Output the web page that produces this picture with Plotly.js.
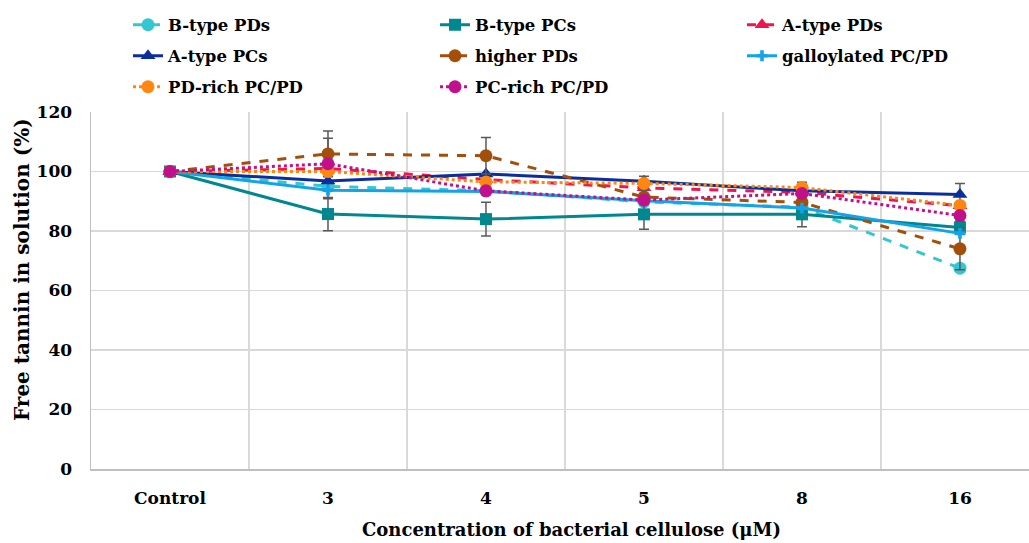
<!DOCTYPE html>
<html>
<head>
<meta charset="utf-8">
<script src="https://cdn.plot.ly/plotly-3.0.1.min.js"></script>
<style>html,body{margin:0;padding:0;background:#fff;}#chart{width:1029px;height:543px;}</style>
</head>
<body>
<div id="chart"></div>
<script>
const categories = ["Control", "3", "4", "5", "8", "16"];

const seriesNames = ["B-type PDs", "B-type PCs", "A-type PDs", "A-type PCs", "higher PDs", "galloylated PC/PD", "PD-rich PC/PD", "PC-rich PC/PD"];

const bTypePDs      = [100, 95.0, 93.5, 89.8, 88.0, 67.5];
const bTypePCs      = [100, 85.7, 84.0, 85.6, 85.6, 81.2];
const aTypePDs      = [100, 101.0, 97.3, 94.5, 93.0, 88.5];
const aTypePCs      = [100, 96.8, 99.2, 96.7, 93.5, 92.3];
const higherPDs     = [100, 105.9, 105.3, 91.4, 89.6, 74.0];
const galloylated   = [100, 93.7, 93.3, 90.2, 87.7, 79.2];
const pdRich        = [100, 100.0, 96.5, 96.0, 94.6, 88.6];
const pcRich        = [100, 102.6, 93.5, 90.4, 92.6, 85.2];

const errBTypePCs   = [0, 5.6, 5.7, 5.0, 4.2, 2.0];
const errATypePDs   = [0, 10.2, 0, 0, 0, 0];
const errATypePCs   = [0, 0, 0, 0, 0, 3.7];
const errHigherPDs  = [0, 7.7, 6.1, 0, 0, 7.0];
const errPdRich     = [0, 0, 0, 2.4, 1.8, 0];

const xTitle = 'Concentration of bacterial cellulose (μM)';
const yTitle = 'Free tannin in solution (%)';

const serifFont = "DejaVu Serif, serif";
const errStyle = (arr) => ({type: 'data', array: arr, visible: true, color: '#595959', thickness: 1.5, width: 5});

function mk(name, y, color, dash, symbol, size, legendId, err) {
  const t = {
    type: 'scatter', mode: 'lines+markers', name: name,
    x: categories, y: y, legend: legendId,
    line: {color: color, width: 3, dash: dash},
    marker: {color: color, symbol: symbol, size: size}
  };
  if (err) t.error_y = errStyle(err);
  return t;
}

const data = [
  mk(seriesNames[0], bTypePDs,    '#33C6D3', 'dash',  'circle',      13, 'legend'),
  mk(seriesNames[1], bTypePCs,    '#00878F', 'solid', 'square',      12, 'legend', errBTypePCs),
  mk(seriesNames[2], aTypePDs,    '#EE1550', 'dash',  'triangle-up', 13, 'legend', errATypePDs),
  mk(seriesNames[3], aTypePCs,    '#0A2E9E', 'solid', 'triangle-up', 13, 'legend2', errATypePCs),
  mk(seriesNames[4], higherPDs,   '#A34F0A', 'dash',  'circle',      13, 'legend2', errHigherPDs),
  mk(seriesNames[5], galloylated, '#14A3E8', 'solid', 'cross',       9,  'legend2'),
  mk(seriesNames[6], pdRich,      '#FF8711', 'dot',   'circle',      13, 'legend3', errPdRich),
  mk(seriesNames[7], pcRich,      '#C1108C', 'dot',   'circle',      13, 'legend3')
];

function legendRow(yPx) {
  return {
    orientation: 'h', xref: 'container', yref: 'container',
    x: 128 / 1029, y: 1 - yPx / 543, xanchor: 'left', yanchor: 'middle',
    entrywidth: 262, entrywidthmode: 'pixels',
    font: {family: serifFont, size: 16.5, color: '#000000', weight: 'bold'},
    bgcolor: 'rgba(0,0,0,0)', traceorder: 'normal'
  };
}

const layout = {
  width: 1029, height: 543,
  margin: {l: 91, r: 0, t: 112, b: 74, pad: 0, autoexpand: false},
  paper_bgcolor: '#ffffff', plot_bgcolor: '#ffffff',
  font: {family: serifFont, size: 18, color: '#000000'},
  showlegend: true,
  legend: legendRow(25),
  legend2: legendRow(56),
  legend3: legendRow(87),
  xaxis: {
    type: 'category',
    range: [-0.5, 5.437],
    tickson: 'boundaries',
    showgrid: true, gridcolor: '#d9d9d9', gridwidth: 1.5,
    showline: true, linecolor: '#bfbfbf', linewidth: 1.5,
    ticks: 'outside', ticklen: 5, tickcolor: 'rgba(0,0,0,0)',
    ticklabelstandoff: 13,
    tickfont: {family: serifFont, size: 17, color: '#000000', weight: 'bold'},
    zeroline: false, fixedrange: true
  },
  yaxis: {
    range: [0, 120],
    tickvals: [0, 20, 40, 60, 80, 100, 120],
    showgrid: true, gridcolor: '#d9d9d9', gridwidth: 1.5,
    showline: true, linecolor: '#bfbfbf', linewidth: 1.5,
    ticks: 'outside', ticklen: 14, tickcolor: 'rgba(0,0,0,0)',
    tickfont: {family: serifFont, size: 17, color: '#000000', weight: 'bold'},
    zeroline: false, fixedrange: true
  },
  annotations: [
    {text: xTitle, xref: 'paper', yref: 'paper', x: (571 - 91) / 938, y: (469 - 529) / 357,
     xanchor: 'center', yanchor: 'middle', showarrow: false,
     font: {family: serifFont, size: 18, color: '#000000', weight: 'bold'}},
    {text: yTitle, xref: 'paper', yref: 'paper', x: (22 - 91) / 938, y: (469 - 270) / 357,
     xanchor: 'center', yanchor: 'middle', showarrow: false, textangle: -90,
     font: {family: serifFont, size: 20, color: '#000000', weight: 'bold'}}
  ]
};

Plotly.newPlot('chart', data, layout, {displayModeBar: false, staticPlot: true});
</script>
</body>
</html>
